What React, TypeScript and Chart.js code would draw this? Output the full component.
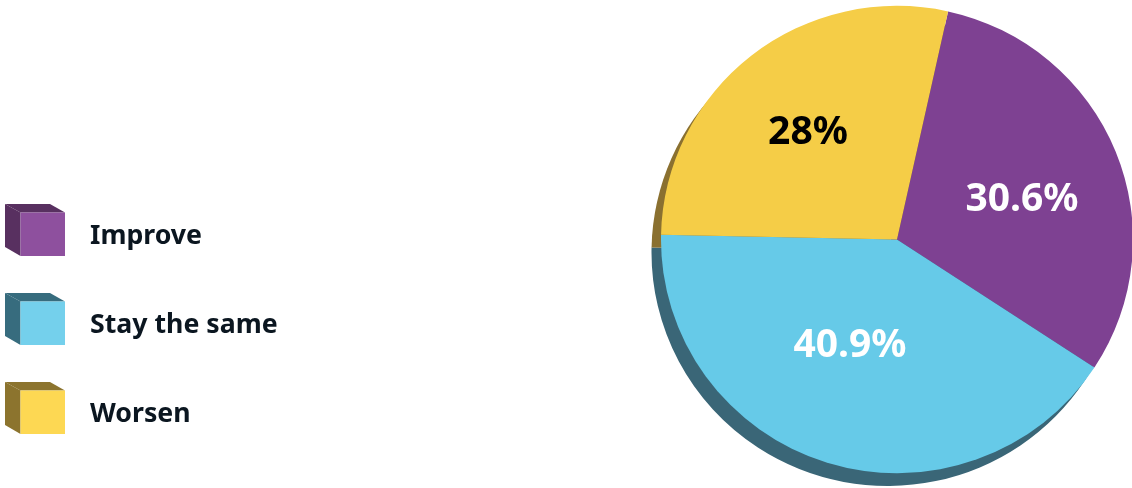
import React, { useEffect, useRef } from "react";
import { Chart, registerables } from "chart.js";

Chart.register(...registerables);

const categories = ["Improve", "Stay the same", "Worsen"];
const shares = [30.6, 40.9, 28];
const shareLabels = ["30.6%", "40.9%", "28%"];

const sliceColors = ["#7E4192", "#66CAE8", "#F5CD47"];
const sliceShadowColors = ["#54305F", "#3A6677", "#8A7030"];
const labelColors = ["#FFFFFF", "#FFFFFF", "#000000"];
const labelCentres = [[1022, 200], [850, 346], [808, 133]];

const swatchFront = ["#8E509E", "#74D0EC", "#FDD853"];
const swatchSide = ["#583060", "#376C7E", "#8C742E"];
const legendTops = [204, 293, 382];

const FONT = '"Noto Sans", sans-serif';
const SHADOW_DX = -9.5;
const SHADOW_DY = 13;
const PIE_SQUASH = 0.99;

const shadowPlugin = {
  id: "pieShadow",
  beforeDatasetsDraw(chart: any) {
    const ctx = chart.ctx;
    const arcs = chart.getDatasetMeta(0).data;
    const cy = arcs[0].y;
    ctx.save();
    ctx.translate(0, cy);
    ctx.scale(1, PIE_SQUASH);
    ctx.translate(0, -cy);
    arcs.forEach((arc: any, i: number) => {
      ctx.fillStyle = sliceShadowColors[i];
      ctx.beginPath();
      ctx.moveTo(arc.x + SHADOW_DX, arc.y + SHADOW_DY);
      ctx.arc(arc.x + SHADOW_DX, arc.y + SHADOW_DY, arc.outerRadius, arc.startAngle, arc.endAngle);
      ctx.closePath();
      ctx.fill();
    });
  },
  afterDatasetsDraw(chart: any) {
    chart.ctx.restore();
  },
};

const labelPlugin = {
  id: "overlayText",
  afterDraw(chart: any) {
    const ctx = chart.ctx;
    ctx.save();
    ctx.textAlign = "center";
    ctx.textBaseline = "middle";
    ctx.font = `700 39px ${FONT}`;
    shareLabels.forEach((t, i) => {
      ctx.fillStyle = labelColors[i];
      ctx.fillText(t, labelCentres[i][0], labelCentres[i][1]);
    });
    ctx.textAlign = "left";
    ctx.font = `700 26.7px ${FONT}`;
    (chart.data.labels as string[]).forEach((t, i) => {
      const top = legendTops[i];
      // top face
      ctx.fillStyle = swatchSide[i];
      ctx.beginPath();
      ctx.moveTo(5, top);
      ctx.lineTo(50, top);
      ctx.lineTo(65, top + 8.5);
      ctx.lineTo(20.5, top + 8.5);
      ctx.closePath();
      ctx.fill();
      // side face
      ctx.beginPath();
      ctx.moveTo(5, top);
      ctx.lineTo(20.5, top + 8.5);
      ctx.lineTo(20.5, top + 52);
      ctx.lineTo(5, top + 43);
      ctx.closePath();
      ctx.fill();
      // front face
      ctx.fillStyle = swatchFront[i];
      ctx.fillRect(20.5, top + 8.5, 44.5, 43.5);
      ctx.fillStyle = "#0B1620";
      ctx.fillText(t, 90, top + 32);
    });
    ctx.restore();
  },
};

export default function App() {
  const ref = useRef<HTMLCanvasElement>(null);
  useEffect(() => {
    document.body.style.margin = "0";
    document.body.style.background = "#FFFFFF";
    const chart = new Chart(ref.current!, {
      type: "pie",
      data: {
        labels: categories,
        datasets: [
          {
            data: shares,
            backgroundColor: sliceColors,
            borderWidth: 0,
          },
        ],
      },
      options: {
        responsive: false,
        animation: false,
        rotation: 12.5,
        radius: 236,
        layout: { padding: { left: 662, right: 0, top: 0, bottom: 9 } },
        plugins: { legend: { display: false }, tooltip: { enabled: false } },
      },
      plugins: [shadowPlugin, labelPlugin],
    });
    return () => chart.destroy();
  }, []);
  return <canvas ref={ref} width={1132} height={488} style={{ display: "block" }} />;
}
